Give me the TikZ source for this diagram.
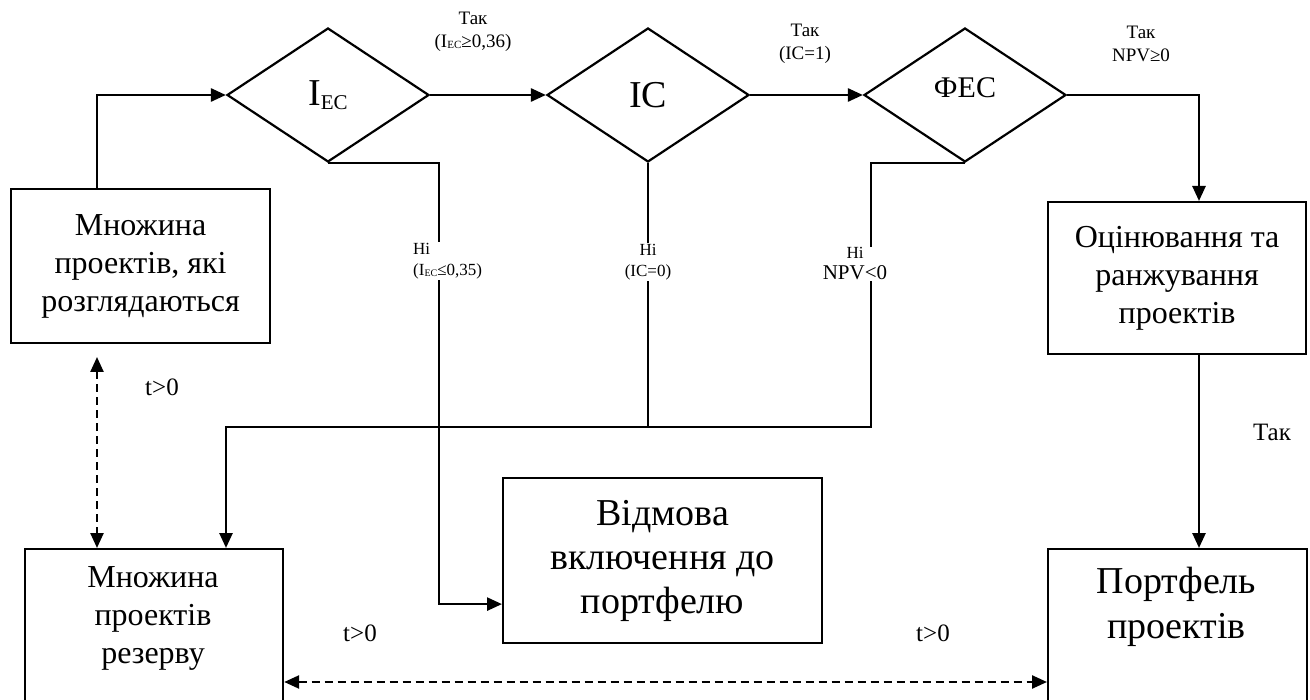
\documentclass[tikz,border=0pt]{standalone}
\usepackage{fontspec}
\setmainfont{Liberation Serif}
\usetikzlibrary{shapes.geometric,arrows.meta}
\newcommand{\ecsub}[2]{\raisebox{-#2}{\fontsize{#1}{#1}\selectfont EC}}
\tikzset{
  box/.style={draw, line width=2.2pt, align=center, inner sep=0pt, font=\fontsize{32}{38}\selectfont},
  bigbox/.style={box, font=\fontsize{38}{44}\selectfont},
  plaintext/.style={align=center, inner sep=0pt},
  dia/.style={diamond, draw, line width=2.2pt, minimum width=202pt, minimum height=134pt, inner sep=0pt},
  conn/.style={line width=2.6pt},
  arr/.style={conn, -{Triangle[length=15pt,width=13pt]}},
  dasharr/.style={line width=2.4pt, dash pattern=on 8pt off 5pt, {Triangle[length=15pt,width=13pt]}-{Triangle[length=15pt,width=13pt]}},
  lab/.style={align=center, inner sep=0pt, font=\fontsize{19}{23}\selectfont},
  nolab/.style={fill=white, inner sep=1pt, font=\fontsize{17}{21}\selectfont},
  tlab/.style={inner sep=0pt, font=\fontsize{25}{30}\selectfont},
}
\begin{document}
\begin{tikzpicture}[x=1pt,y=-1pt]
\useasboundingbox (0,0) rectangle (1310,700);
\clip (0,0) rectangle (1310,700);

% boxes
\node[box, anchor=north west, minimum width=259pt, minimum height=154pt] (box1) at (10,188) {Множина\\проектів, які\\розглядаються};
\node[box, anchor=north west, minimum width=258pt, minimum height=152pt] (eval) at (1047,201) {Оцінювання та\\ранжування\\проектів};
\node[bigbox, anchor=north west, minimum width=319pt, minimum height=165pt] (vidm) at (502,477) {Відмова\\включення до\\портфелю};
\node[box, anchor=north west, minimum width=258pt, minimum height=175pt] (res) at (24,548) {};
\node[plaintext, font=\fontsize{32}{38}\selectfont] (restext) at (153,618) {Множина\\проектів\\резерву};
\node[box, anchor=north west, minimum width=259pt, minimum height=175pt] (port) at (1047,548) {};
\node[plaintext, font=\fontsize{38}{45}\selectfont] (porttext) at (1176.5,607) {Портфель\\проектів};

% diamonds
\node[dia] (d1) at (328,95) {\fontsize{38}{40}\selectfont I\ecsub{21}{4pt}};
\node[dia] (d2) at (648,95) {\fontsize{38}{40}\selectfont IC};
\node[dia] (d3) at (965,95) {\fontsize{30}{34}\selectfont\raisebox{14pt}{ФЕС}};

% coordinates
\coordinate (c1) at (439,0);
\coordinate (c3) at (871,427);
\coordinate (c4) at (226,0);
\coordinate (col) at (1199,0);
\coordinate (c5) at (97,357);
\coordinate (c6) at (0,682);

% main flow
\draw[arr] ([xshift=87pt]box1.north west) |- (d1.west);
\draw[arr] (d1.east) -- (d2.west);
\draw[arr] (d2.east) -- (d3.west);
\draw[arr] (d3.east) -| (eval.north -| col);
\draw[arr] (eval.south -| col) -- (port.north -| col);

% "no" branches
\draw[arr] (d1.south) -- (d1.south -| c1) |- ([yshift=-43.5pt]vidm.west);
\draw[conn] (d2.south) -- (d2.south |- c3);
\draw[arr] (d3.south) -| (c3) -| (res.north -| c4);

% dashed
\draw[dasharr] (c5) -- (res.north -| c5);
\draw[dasharr] (res.east |- c6) -- (port.west |- c6);

% labels
\node[lab] (t1) at (473,31.5) {Так\\(I\ecsub{11}{1.5pt}≥0,36)};
\node[lab] (t2) at (805,43.5) {Так\\(IC=1)};
\node[lab] (t3) at (1141,43.5) {Так\\NPV≥0};
\node[nolab, anchor=west, align=left] (n1) at (412,261) {Ні\\(I\ecsub{10}{1.5pt}≤0,35)};
\node[nolab, align=center] (n2) at (648,262) {Ні\\(IC=0)};
\node[nolab, align=center] (n3) at (855,264) {Ні\\{\fontsize{21}{24}\selectfont NPV<0}};
\node[tlab] (tt1) at (162,387) {t>0};
\node[tlab] (tt2) at (360,633) {t>0};
\node[tlab] (tt3) at (933,633) {t>0};
\node[tlab] (tt4) at (1272,432) {Так};
\end{tikzpicture}
\end{document}
